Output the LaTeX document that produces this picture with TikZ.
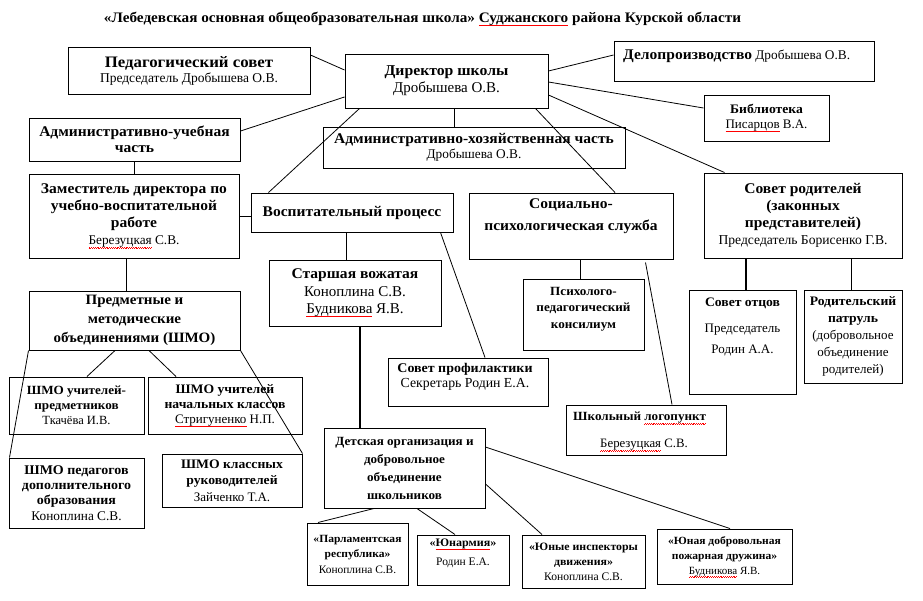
\documentclass[tikz,border=0pt]{standalone}
\usepackage{fontspec}
\setmainfont{Liberation Serif}[BoldFeatures={FakeStretch=1.05}]
\usetikzlibrary{calc}
\newcommand\fs[2]{\fontsize{#1}{#2}\selectfont}
\newcommand\bb[2]{{\fontsize{#1}{#1}\selectfont\bfseries #2}}
\newsavebox\rwbox
\newcommand\rw[1]{\sbox\rwbox{#1}\rlap{\raisebox{-3.2pt}[0pt][0pt]{\hbox to \wd\rwbox{\color{red}\xleaders\hbox{\rule{0.9pt}{0.5pt}\raisebox{0.7pt}{\rule{0.9pt}{0.5pt}}}\hfill}}}\usebox\rwbox}
\begin{document}
\begin{tikzpicture}[x=1pt,y=-1pt,
  bx/.style 2 args={minimum width=#1pt, minimum height=#2pt},
  box/.style={draw, line width=1pt, inner sep=0pt, align=center},
  txt/.style={inner sep=0pt, align=center},
  ln/.style={line width=0.8pt},
  tln/.style={line width=1.5pt},
]
\fill[white] (0,0) rectangle (923,600);
\useasboundingbox (0,0) rectangle (923,600);

\node[txt, font={\fs{14.5}{16}\bfseries}] (title) at (422.5,19)
  {«Лебедевская основная общеобразовательная школа» \rw{Суджанского} района Курской области};

% top row
\node[box, bx={242}{47}, font={\fs{13.5}{15}}] (ped) at (189,70.5) {\bb{16}{Педагогический совет}\\Председатель Дробышева О.В.};
\node[box, bx={203}{54}, font={\fs{15}{17}}] (dir) at (446.5,81) {\textbf{Директор школы}\\Дробышева О.В.};
\node[box, bx={260}{40}] (delo) at (744,61) {};
\node[txt, anchor=west, font={\fs{13.3}{15}}] (delot) at (623,56) {\bb{14.8}{Делопроизводство} Дробышева О.В.};
\node[box, bx={125}{46}, font={\fs{13}{15}}] (lib) at (766.5,118) {\textbf{Библиотека}\\\rw{Писарцов} В.А.};

\node[box, bx={211}{43}, font={\fs{14.8}{16}}] (admu) at (134.5,139.5) {\textbf{Административно-учебная}\\\textbf{часть}};
\node[box, bx={302}{41}, font={\fs{13.3}{15}}] (admh) at (474,147.5) {\bb{14.8}{Административно-хозяйственная часть}\\Дробышева О.В.};

% second row
\node[box, bx={210}{84}, font={\fs{13.3}{17}}] (zam) at (134,216) {\bb{14.8}{Заместитель директора по}\\\bb{14.8}{учебно-воспитательной}\\\bb{14.8}{работе}\\\rw{Березуцкая} С.В.};
\node[box, bx={202}{39}, font={\fs{14.8}{17}}] (vosp) at (352,212.5) {\textbf{Воспитательный процесс}};
\node[box, bx={204}{66}] (soc) at (571,226) {};
\node[txt, font={\fs{14.8}{22}}] (soct) at (571,216) {\textbf{Социально-}\\\textbf{психологическая служба}};
\node[box, bx={198}{85}, font={\fs{13.6}{17}}] (sovr) at (803,215.5) {\bb{14.8}{Совет родителей}\\\bb{14.8}{(законных}\\\bb{14.8}{представителей)}\\Председатель Борисенко Г.В.};

% third row
\node[box, bx={172}{66}, font={\fs{15}{17.5}}] (star) at (355,293) {\bb{14.8}{Старшая вожатая}\\Коноплина С.В.\\\rw{Будникова} Я.В.};
\node[box, bx={121}{71}] (psy) at (583.5,314.5) {};
\node[txt, font={\fs{12.5}{16.5}}] (psyt) at (583.5,309) {\textbf{Психолого-}\\\textbf{педагогический}\\\textbf{консилиум}};
\node[box, bx={107}{104}] (otc) at (742.5,342) {};
\node[txt, font={\fs{13}{15}}] (otct1) at (742.5,303) {\textbf{Совет отцов}};
\node[txt, font={\fs{13}{21}}] (otct2) at (742.5,340) {Председатель\\Родин А.А.};
\node[box, bx={98}{93}, font={\fs{13}{17}}] (patr) at (853,336.5) {\textbf{Родительский}\\\textbf{патруль}\\(добровольное\\объединение\\родителей)};
\node[box, bx={211}{59}, font={\fs{14.3}{19}}] (pred) at (134.5,320.5) {\textbf{Предметные и}\\\textbf{методические}\\\textbf{объединениями (ШМО)}};

% fourth row
\node[box, bx={135}{57}, font={\fs{12.5}{15}}] (shp) at (76.5,405.5) {\textbf{ШМО учителей-}\\\textbf{предметников}\\Ткачёва И.В.};
\node[box, bx={154}{57}, font={\fs{13}{15}}] (shn) at (225,405.5) {\textbf{ШМО учителей}\\\textbf{начальных классов}\\\rw{Стригуненко} Н.П.};
\node[box, bx={135}{70}, font={\fs{13.3}{15.3}}] (shd) at (76.5,493) {\textbf{ШМО педагогов}\\\textbf{дополнительного}\\\textbf{образования}\\Коноплина С.В.};
\node[box, bx={140}{53}, font={\fs{13}{16.5}}] (shk) at (232,480.5) {\textbf{ШМО классных}\\\textbf{руководителей}\\Зайченко Т.А.};
\node[box, bx={160}{48}] (prof) at (468,382) {};
\node[txt, font={\fs{13.8}{15}}] (proft) at (465,377) {\bb{13.3}{Совет профилактики}\\Секретарь Родин Е.А.};
\node[box, bx={160}{50}] (logo) at (646,430) {};
\node[txt, anchor=west, font={\fs{12.5}{15}}] (logot1) at (573,418) {\textbf{Школьный \rw{логопункт}}};
\node[txt, font={\fs{12.8}{15}}] (logot2) at (644,445) {\rw{Березуцкая} С.В.};

\node[box, bx={161}{80}, font={\fs{12.5}{18}}] (det) at (404.5,468) {\textbf{Детская организация и}\\\textbf{добровольное}\\\textbf{объединение}\\\textbf{школьников}};
\node[box, bx={101}{62}, font={\fs{11}{15.5}}] (parl) at (357.5,554) {\textbf{«Парламентская}\\\textbf{республика»}\\{\fs{11.4}{15.5}Коноплина С.В.}};
\node[box, bx={92}{50}] (yun) at (463,560) {};
\node[txt, font={\fs{11.5}{19}}] (yunt) at (463,553.5) {\textbf{«\rw{Юнармия}»}\\Родин Е.А.};
\node[box, bx={123}{53}, font={\fs{11.3}{15}}] (yui) at (583.5,561.5) {\textbf{«Юные инспекторы}\\\textbf{движения»}\\{\fs{11.6}{15}Коноплина С.В.}};
\node[box, bx={135}{55}, font={\fs{11}{15}}] (ydp) at (724.5,556.5) {\textbf{«Юная добровольная}\\\textbf{пожарная дружина»}\\\rw{Будникова} Я.В.};

% connectors
\draw[ln] ([yshift=15.5pt]ped.east) -- ([yshift=11pt]dir.west);
\draw[ln] ([yshift=8.5pt]admu.east) -- ([yshift=-16pt]dir.west);
\draw[ln] ([xshift=15pt]dir.south west) -- ([xshift=18pt]vosp.north west);
\draw[ln] ([xshift=7.5pt]dir.south) -- ([xshift=-20pt]admh.north);
\draw[ln] ([xshift=-13pt]dir.south east) -- ([xshift=44pt]soc.north);
\draw[ln] ([yshift=-14pt]dir.east) -- ([xshift=21pt]sovr.north west);
\draw[ln] ([yshift=-1pt]dir.east) -- ([yshift=10pt]lib.west);
\draw[ln] ([yshift=10pt]dir.east) -- ([yshift=6pt]delo.west);
\draw[tln] (admu.south) -- (admu.south |- zam.north);
\draw[ln] (zam.east) -- (zam.east -| vosp.west);
\draw[ln] ([xshift=-8pt]zam.south) -- ([xshift=-8.5pt]pred.north);
\draw[ln] ([xshift=-6pt]vosp.south) -- ([xshift=-9pt]star.north);
\draw[ln] ([xshift=-13pt]vosp.south east) -- ([xshift=17pt]prof.north);
\draw[ln] ([xshift=9pt]soc.south) -- ([xshift=-3.5pt]psy.north);
\draw[ln] ([xshift=-28pt,yshift=-3pt]soc.south east) -- ([xshift=26pt]logo.north);
\draw[tln] ([xshift=-57pt]sovr.south) -- ([xshift=3.5pt]otc.north);
\draw[ln] ([xshift=48pt]sovr.south) -- ([xshift=-2pt]patr.north);
\draw[ln] ([xshift=-19.5pt]pred.south) -- ([xshift=10.5pt]shp.north);
\draw[ln] ([xshift=14.5pt]pred.south) -- ([xshift=-49pt]shn.north);
\draw[ln] (pred.south west) -- ([xshift=1pt]shd.north west);
\draw[ln] (pred.south east) -- (shk.north east);
\draw[tln] ([xshift=5pt]star.south) -- ([xshift=-44.5pt]det.north);
\draw[ln] ([yshift=21pt]det.east) -- ([xshift=5.5pt]ydp.north);
\draw[ln] ([yshift=-16pt]det.east) -- ([xshift=-41.5pt]yui.north);
\draw[ln] ([xshift=12.5pt]det.south) -- ([xshift=-8pt]yun.north);
\draw[ln] ([xshift=-30.5pt]det.south) -- ([xshift=-39.5pt]parl.north);
\end{tikzpicture}
\end{document}
